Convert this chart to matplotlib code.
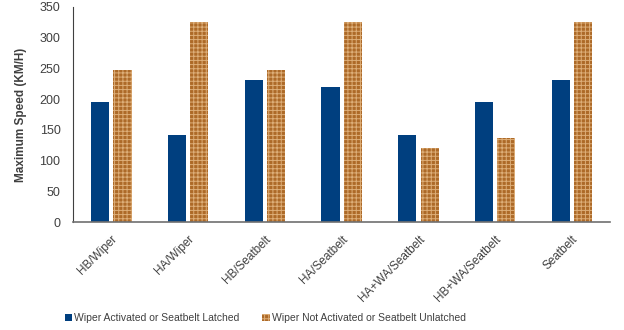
import numpy as np
import matplotlib.pyplot as plt

categorias = ['HB/Wiper', 'HA/Wiper', 'HB/Seatbelt', 'HA/Seatbelt',
              'HA+WA/Seatbelt', 'HB+WA/Seatbelt', 'Seatbelt']
latched = [195, 141, 231, 220, 141, 196, 231]
unlatched = [248, 325, 248, 325, 120, 136, 325]

plt.rcParams['font.family'] = ['Liberation Sans', 'DejaVu Sans']
plt.rcParams['hatch.linewidth'] = 0.7

fig = plt.figure(figsize=(6.24, 3.30), dpi=100)
ax = fig.add_axes([0.117, 0.327, 0.861, 0.652])

x = np.arange(len(categorias))
ancho = 0.235
ax.bar(x - 0.145, latched, ancho, color='#003F7F',
       label='Wiper Activated or Seatbelt Latched')
ax.bar(x + 0.145, unlatched, ancho, color='#AD6A28', edgecolor='#DDAE78',
       linewidth=0, hatch='++++', label='Wiper Not Activated or Seatbelt Unlatched')

ax.set_xlim(-0.5, len(categorias) - 0.5)
ax.set_ylim(0, 350)
ax.set_yticks(range(0, 351, 50))
ax.set_xticks(x)
ax.set_xticklabels(categorias, rotation=45, ha='right', rotation_mode='anchor',
                   fontsize=8.5, color='#404040')
ax.tick_params(axis='y', labelsize=9, labelcolor='#404040', length=0, pad=9)
ax.tick_params(axis='x', length=0, pad=8)
ax.set_ylabel('Maximum Speed (KM/H)', fontsize=8.5, fontweight='bold',
              color='#404040', labelpad=9)

for s in ['top', 'right']:
    ax.spines[s].set_visible(False)
ax.spines['left'].set_color('#404040')
ax.spines['bottom'].set_color('#707070')
ax.spines['bottom'].set_linewidth(1.2)

fig.legend(loc='center', bbox_to_anchor=(0.425, 0.035), ncol=2, frameon=False,
           fontsize=7.5, handlelength=0.7, handleheight=0.7, handletextpad=0.2,
           columnspacing=2.2, labelcolor='#404040')

fig.savefig('out.png', dpi=100)
